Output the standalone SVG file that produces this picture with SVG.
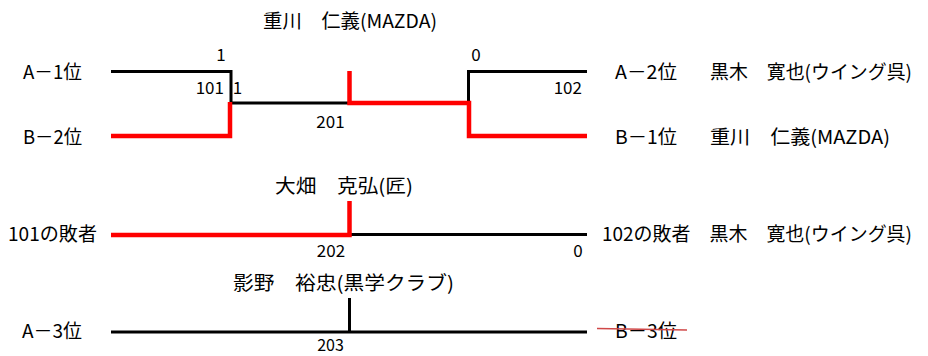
<svg xmlns="http://www.w3.org/2000/svg" width="928" height="356" viewBox="0 0 928 356">
<style>
text{font-family:"Noto Sans CJK JP","Noto Sans",sans-serif;fill:#000;}
.lb{font-size:19px;}
.sc{font-size:17px;}
.bk{stroke:#000;stroke-width:3;fill:none;}
.rd{stroke:#ff0000;stroke-width:4.5;fill:none;}
</style>
<rect width="928" height="356" fill="#fff"/>
<g id="connectors">
<polyline class="bk" points="111,71.5 231,71.5 231,103"/>
<polyline class="bk" points="231,103 349,103"/>
<polyline class="bk" points="587,71.5 468.5,71.5 468.5,103"/>
<polyline class="rd" points="111,136 230,136 230,102"/>
<polyline class="rd" points="349.5,71 349.5,103 469,103 469,136 587,136"/>
<line class="bk" x1="350" y1="234.5" x2="587" y2="234.5"/>
<polyline class="rd" points="111,235 349.5,235 349.5,201"/>
<line class="bk" x1="111" y1="332" x2="587" y2="332"/>
<line class="bk" x1="349.5" y1="298" x2="349.5" y2="332"/>
</g>
<g id="m201">
<text class="lb" x="263" y="28" textLength="174" lengthAdjust="spacingAndGlyphs">重川　仁義(MAZDA)</text>
<text class="sc" x="330.5" y="128" text-anchor="middle">201</text>
</g>
<g id="m101">
<text class="sc" x="221" y="61" text-anchor="middle">1</text>
<text class="sc" x="224" y="94" text-anchor="end">101</text>
<text class="sc" x="237.5" y="94" text-anchor="middle">1</text>
</g>
<g id="m102">
<text class="sc" x="476" y="61" text-anchor="middle">0</text>
<text class="sc" x="582" y="94" text-anchor="end">102</text>
</g>
<g id="a1"><text class="lb" x="23" y="79" textLength="59" lengthAdjust="spacingAndGlyphs">A－1位</text></g>
<g id="b2"><text class="lb" x="23" y="144" textLength="59" lengthAdjust="spacingAndGlyphs">B－2位</text></g>
<g id="a2">
<text class="lb" x="615" y="79" textLength="62" lengthAdjust="spacingAndGlyphs">A－2位</text>
<text class="lb" x="710" y="79" textLength="202" lengthAdjust="spacingAndGlyphs">黒木　寛也(ウイング呉)</text>
</g>
<g id="b1">
<text class="lb" x="615" y="144" textLength="62" lengthAdjust="spacingAndGlyphs">B－1位</text>
<text class="lb" x="710" y="144" textLength="180" lengthAdjust="spacingAndGlyphs">重川　仁義(MAZDA)</text>
</g>
<g id="m202">
<text class="lb" x="275" y="193" textLength="138" lengthAdjust="spacingAndGlyphs">大畑　克弘(匠)</text>
<text class="sc" x="331" y="257" text-anchor="middle">202</text>
<text class="sc" x="578" y="257" text-anchor="middle">0</text>
</g>
<g id="l101"><text class="lb" x="8" y="241" textLength="89" lengthAdjust="spacingAndGlyphs">101の敗者</text></g>
<g id="l102"><text class="lb" x="602" y="241" textLength="310" lengthAdjust="spacingAndGlyphs">102の敗者　黒木　寛也(ウイング呉)</text></g>
<g id="m203">
<text class="lb" x="233" y="290" textLength="221" lengthAdjust="spacingAndGlyphs">影野　裕忠(黒学クラブ)</text>
<text x="330.5" y="351" text-anchor="middle" font-size="16">203</text>
</g>
<g id="a3"><text class="lb" x="22" y="338" textLength="60" lengthAdjust="spacingAndGlyphs">A－3位</text></g>
<g id="b3">
<text class="lb" x="615" y="338" textLength="62" lengthAdjust="spacingAndGlyphs">B－3位</text>
<line x1="597" y1="328.5" x2="687" y2="330" stroke="#d04848" stroke-width="1.3"/>
</g>
</svg>
